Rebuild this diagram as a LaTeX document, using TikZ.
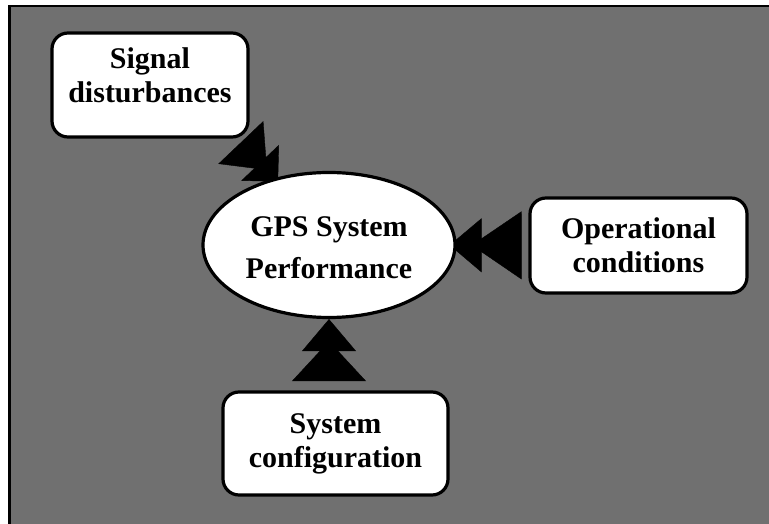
\documentclass[tikz,border=0pt]{standalone}
\usepackage{fontspec}
\setmainfont{Liberation Serif}
\usetikzlibrary{arrows.meta,shapes.geometric}
\definecolor{bggray}{gray}{0.44}
\pgfdeclarelayer{back}
\pgfsetlayers{back,main}
\begin{document}
\begin{tikzpicture}[x=0.75pt,y=-0.75pt,
  factor/.style={draw=black,line width=2.4pt,fill=white,rounded corners=12pt,
    inner sep=0pt,align=center,
    font=\bfseries\fontsize{22.5pt}{25.5pt}\selectfont},
  target/.style={ellipse,draw=black,line width=2.4pt,fill=white,inner sep=0pt,
    align=center,font=\bfseries\fontsize{22.5pt}{31.5pt}\selectfont},
  % double triangle head: back triangle (#1,#2), front triangle (#3,#4);
  % the shaft takes the panel colour so only the heads show
  twin/.style n args={4}{draw=bggray,line width=0.3pt,
    -{Triangle[black,length=#1,width=#2,sep=-7.5pt]Triangle[black,length=#3,width=#4,sep=-7.5pt]}}
]
\useasboundingbox (0,0) rectangle (769,524);

% central effect and the three influencing factors
\node[target,minimum width=189pt,minimum height=108.75pt,text height=51pt]
  (perf) at (329,245) {GPS System\\Performance};
\node[factor,minimum width=147pt,minimum height=78pt,text depth=14.25pt] (sig)
  at (150,85) {Signal\\disturbances};
\node[factor,minimum width=162.75pt,minimum height=71.25pt] (op)
  at (638.5,245.5) {Operational\\conditions};
\node[factor,minimum width=168.75pt,minimum height=77.25pt] (cfg)
  at (335.5,443.5) {System\\configuration};

\begin{pgfonlayer}{back}
  % panel with its frame on the top and left sides
  \fill[bggray] (9,6) rectangle (769,524);
  \fill[black] (8,5) rectangle (769,7.5);
  \fill[black] (8,5) rectangle (10.5,524);
  % influence arrows
  \draw[twin={28.5pt}{46.5pt}{19.5pt}{39pt}]
    ([shift={(-22,-10)}]sig.south east) -- ([shift={(-2,-4)}]perf.130);
  \draw[twin={37.5pt}{51pt}{24pt}{40.5pt},shorten >=2.25pt]
    (op) -- (perf);
  \draw[twin={30pt}{55.5pt}{24pt}{40.5pt},shorten >=7.5pt]
    (perf.south |- cfg.north) -- (perf.south);
\end{pgfonlayer}
\end{tikzpicture}
\end{document}
